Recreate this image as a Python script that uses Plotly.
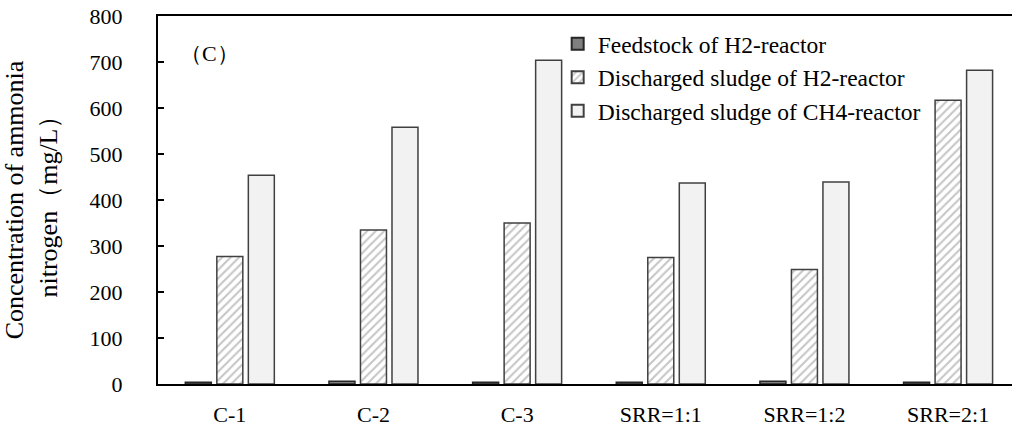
import plotly.graph_objects as go

categories = ["C-1", "C-2", "C-3", "SRR=1:1", "SRR=1:2", "SRR=2:1"]
feedstock_h2 = [4, 6, 4, 4, 6, 4]
sludge_h2 = [277, 335, 350, 275, 249, 617]
sludge_ch4 = [454, 558, 704, 437, 439, 682]
y_ticks = [0, 100, 200, 300, 400, 500, 600, 700, 800]

FONT = "Liberation Serif"

fig = go.Figure()
fig.add_trace(go.Bar(
    name="Feedstock of H2-reactor", x=categories, y=feedstock_h2,
    marker=dict(color="#7f7f7f", line=dict(color="#262626", width=1.5)),
))
fig.add_trace(go.Bar(
    name="Discharged sludge of H2-reactor", x=categories, y=sludge_h2,
    marker=dict(color="white", line=dict(color="#404040", width=1.5),
                pattern=dict(shape="/", fgcolor="#8c8c8c", bgcolor="white",
                             size=6, solidity=0.35)),
))
fig.add_trace(go.Bar(
    name="Discharged sludge of CH4-reactor", x=categories, y=sludge_ch4,
    marker=dict(color="#f2f2f2", line=dict(color="#404040", width=1.5)),
))

fig.update_layout(
    width=1012, height=430,
    margin=dict(l=158, r=0, t=16, b=46, autoexpand=False),
    paper_bgcolor="white", plot_bgcolor="white",
    barmode="group", bargap=0.342, bargroupgap=0.175,
    font=dict(family=FONT, size=22, color="black"),
    showlegend=True,
    legend=dict(x=0.468, y=0.984, xanchor="left", yanchor="top",
                font=dict(family=FONT, size=23.5, color="black"),
                bgcolor="rgba(0,0,0,0)", itemwidth=30, tracegroupgap=0,
                itemsizing="constant"),
    xaxis=dict(range=[-0.5, 5.445], showline=True, linecolor="black",
               linewidth=2, mirror=True, ticks="", showgrid=False,
               automargin=False, ticklabelstandoff=10,
               tickfont=dict(family=FONT, size=22, color="black")),
    yaxis=dict(range=[0, 800], tickvals=y_ticks, showline=True,
               linecolor="black", linewidth=2, mirror=False, ticks="inside",
               ticklen=6, tickwidth=1.5, tickcolor="black", showgrid=False,
               zeroline=False, ticklabelstandoff=29, automargin=False,
               ticklabeloverflow="allow",
               tickfont=dict(family=FONT, size=22, color="black"),
               title=dict(text="Concentration of ammonia<br>nitrogen（mg/L）",
                          font=dict(family=FONT, size=26, color="black"),
                          standoff=29)),
)
fig.add_annotation(text="（C）", xref="paper", yref="paper", x=0.024, y=0.898,
                   xanchor="left", yanchor="middle", showarrow=False,
                   font=dict(family=FONT, size=22, color="black"))

fig.write_html("out.html", config={"displayModeBar": False},
               post_script="document.body.style.margin='0';document.body.style.overflow='hidden';")
